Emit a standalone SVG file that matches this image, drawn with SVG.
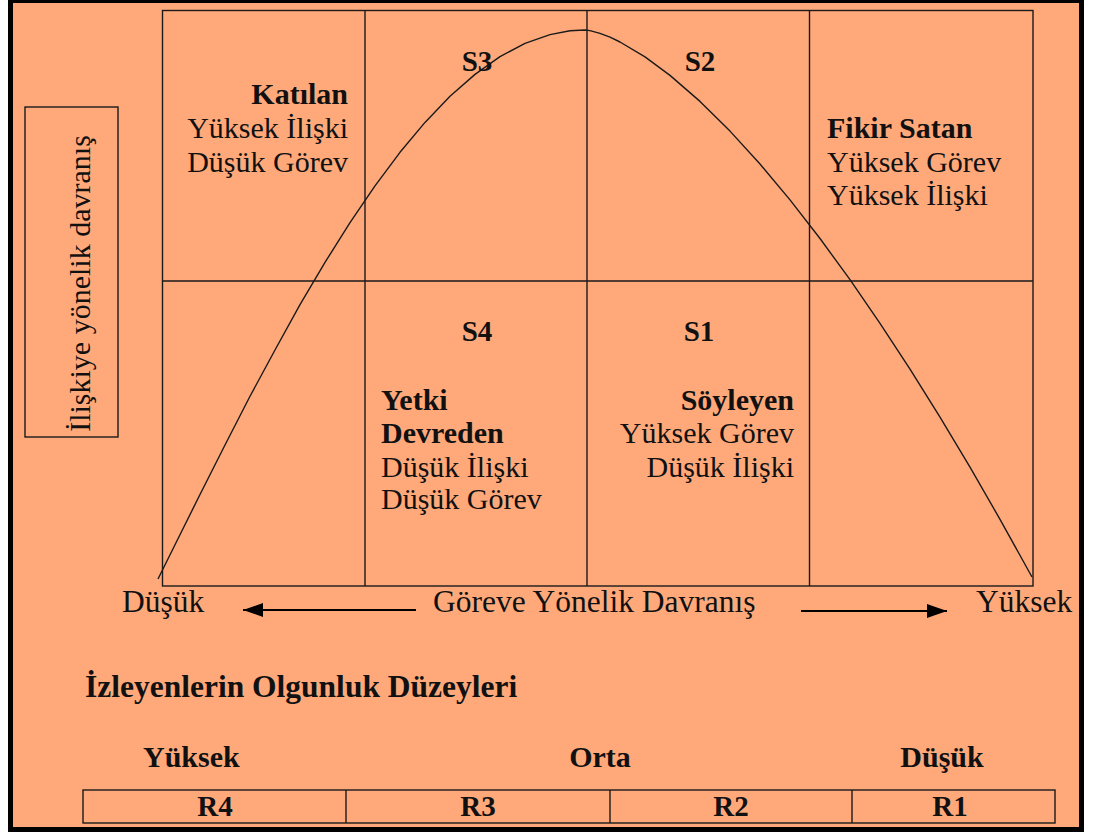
<svg xmlns="http://www.w3.org/2000/svg" width="1098" height="836" viewBox="0 0 1098 836" font-family="'Liberation Serif', 'DejaVu Serif', serif">
<style>
text{font-family:'Liberation Serif','DejaVu Serif',serif;fill:#111;font-size:30px}
.b{font-weight:bold}
.s{font-size:29px;font-weight:bold}
.ax{font-size:31.5px}
.big{font-size:31.5px}
.ln{stroke:#1a1a1a;stroke-width:1.4;fill:none}
.m{text-anchor:middle}
.e{text-anchor:end}
</style>
<defs>
<marker id="ah" viewBox="0 0 20 14" refX="20" refY="7" markerWidth="20" markerHeight="14" markerUnits="userSpaceOnUse" orient="auto">
<path d="M0,0 L20,7 L0,14 Z" fill="#000"/>
</marker>
</defs>
<rect x="0" y="0" width="1098" height="836" fill="#fff"/>
<rect id="frame" x="10.5" y="0.5" width="1071" height="829" fill="#FFA97B" stroke="#000" stroke-width="5"/>

<g id="grid">
<rect class="ln" x="162.5" y="10.5" width="870.5" height="575.5"/>
<line class="ln" x1="365" y1="10.5" x2="365" y2="586"/>
<line class="ln" x1="587" y1="10.5" x2="587" y2="586"/>
<line class="ln" x1="809.5" y1="10.5" x2="809.5" y2="586"/>
<line class="ln" x1="162.5" y1="281" x2="1033" y2="281"/>
</g>

<g id="curve">
<polyline class="ln" stroke-width="1.9" stroke-linejoin="round" points="158,579 175,544.7 200,494.5 225,445 250,396.3 275,350 300,304.7 325,262.4 350,222.7 375,185.8 400,152.3 425,122.4 450,96.3 475,74.4 500,56.6 525,43.3 550,34.6 570,30.8 585,30 590,30.6 600,33.4 610,37.2 620,42 645,56.9 670,75.4 700,101.4 730,131.1 760,164 790,199.9 820,238.5 850,279.7 880,323.3 910,369.1 940,417.2 970,467.2 1000,519.3 1032,577"/>
</g>

<g id="S3"><text class="s m" x="477" y="71">S3</text></g>
<g id="S2"><text class="s m" x="700" y="71">S2</text></g>
<g id="S4"><text class="s m" x="477" y="341">S4</text></g>
<g id="S1"><text class="s m" x="699" y="341">S1</text></g>

<g id="katilan">
<text class="b e" x="348" y="104">Katılan</text>
<text class="e" x="348" y="138">Yüksek İlişki</text>
<text class="e" x="348" y="172">Düşük Görev</text>
</g>
<g id="fikir-satan">
<text class="b" x="827" y="138">Fikir Satan</text>
<text x="827" y="172">Yüksek Görev</text>
<text x="827" y="205">Yüksek İlişki</text>
</g>
<g id="yetki-devreden">
<text class="b" x="381" y="410">Yetki</text>
<text class="b" x="381" y="443">Devreden</text>
<text x="381" y="477">Düşük İlişki</text>
<text x="381" y="509">Düşük Görev</text>
</g>
<g id="soyleyen">
<text class="b e" x="794" y="410">Söyleyen</text>
<text class="e" x="794" y="443">Yüksek Görev</text>
<text class="e" x="794" y="477">Düşük İlişki</text>
</g>

<g id="y-axis-label">
<rect class="ln" x="25" y="107" width="93" height="330"/>
<text class="m" x="90" y="283.5" transform="rotate(-90 90 283.5)">İlişkiye yönelik davranış</text>
</g>

<g id="x-axis-label">
<text class="ax" x="122" y="612">Düşük</text>
<text class="ax" x="433" y="612">Göreve Yönelik Davranış</text>
<text class="ax" x="976" y="612">Yüksek</text>
</g>

<g id="connectors">
<line x1="416" y1="610" x2="243" y2="610" stroke="#000" stroke-width="2" marker-end="url(#ah)"/>
<line x1="801" y1="611" x2="947" y2="611" stroke="#000" stroke-width="2" marker-end="url(#ah)"/>
</g>

<g id="olgunluk">
<text class="b big" x="85" y="697">İzleyenlerin Olgunluk Düzeyleri</text>
<text class="b" x="143" y="767">Yüksek</text>
<text class="b m" x="600" y="767">Orta</text>
<text class="b m" x="942" y="767">Düşük</text>
</g>

<g id="r-table">
<rect class="ln" x="83" y="790" width="972" height="33"/>
<line class="ln" x1="346" y1="790" x2="346" y2="823"/>
<line class="ln" x1="610" y1="790" x2="610" y2="823"/>
<line class="ln" x1="852" y1="790" x2="852" y2="823"/>
<text class="s m" x="215" y="816">R4</text>
<text class="s m" x="478" y="816">R3</text>
<text class="s m" x="731" y="816">R2</text>
<text class="s m" x="950" y="816">R1</text>
</g>
</svg>
